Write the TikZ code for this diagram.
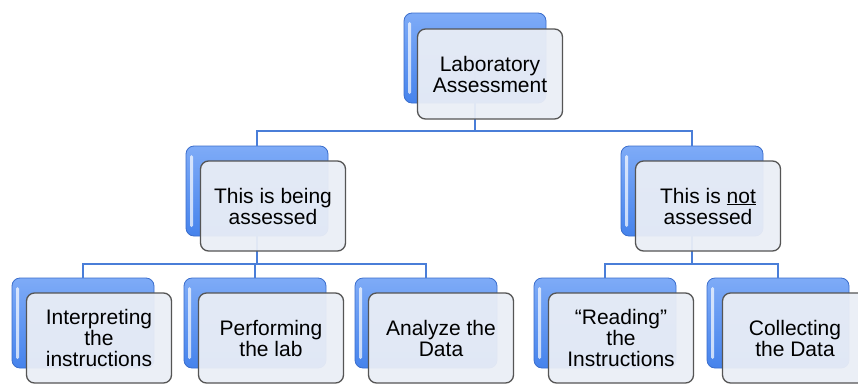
\documentclass[tikz,border=0pt]{standalone}
\usepackage{fontspec}
\setmainfont{Liberation Sans}
\definecolor{conn}{HTML}{4A7ED8}
\definecolor{bluetop}{HTML}{7EABF7}
\definecolor{bluebot}{HTML}{4683EC}
\definecolor{blueedge}{HTML}{3A6DCC}
\definecolor{frontfill}{HTML}{EAEEF6}
\definecolor{frontedge}{HTML}{555555}
\tikzset{
  backbox/.style={rounded corners=8pt, minimum width=142pt, minimum height=90pt,
    draw=blueedge, line width=0.8pt, top color=bluetop, bottom color=bluebot, inner sep=0pt,
    path picture={\fill[white,opacity=0.7,rounded corners=1.5pt]
      ([xshift=4pt,yshift=-9pt]path picture bounding box.north west) rectangle
      ([xshift=7pt,yshift=9pt]path picture bounding box.south west);}},
  frontbox/.style={rounded corners=8pt, minimum width=145pt, minimum height=90pt,
    draw=frontedge, line width=1.3pt, fill=frontfill, fill opacity=0.94, text opacity=1,
    align=center, inner sep=2pt, font=\fontsize{21}{21}\selectfont},
  link/.style={draw=conn, line width=2.5pt}
}
\begin{document}
\begin{tikzpicture}[x=1pt,y=-1pt]
\useasboundingbox (0,0) rectangle (858,383);
\clip (0,0) rectangle (858,383);
\fill[white] (0,0) rectangle (858,383);
% back (blue) boxes
\node[backbox] (topB) at (475,58) {};
\node[backbox] (ltB) at (257,191) {};
\node[backbox] (rtB) at (692,191) {};
\node[backbox] (b1B) at (83,323) {};
\node[backbox] (b2B) at (255,323) {};
\node[backbox] (b3B) at (426,323) {};
\node[backbox] (b4B) at (605,323) {};
\node[backbox] (b5B) at (778,323) {};
% connectors (behind front boxes)
\draw[link] (topB.center) -- (topB.center |- 0,131) coordinate (j0) -| (ltB.north);
\draw[link] (j0) -| (rtB.north);
\draw[link] (ltB.center) -- (ltB.center |- 0,264) coordinate (j1) -| (b1B.north);
\draw[link] (j1) -| (b2B.north);
\draw[link] (j1) -| (b3B.north);
\draw[link] (rtB.center) -- (rtB.center |- 0,264) coordinate (j2) -| (b4B.north);
\draw[link] (j2) -| (b5B.north);
% front boxes
\node[frontbox] (topF) at (490,74) {Laboratory\\Assessment};
\node[frontbox] (ltF) at (273,206) {This is being\\assessed};
\node[frontbox] (rtF) at (708,206) {This is \underline{not}\\assessed};
\node[frontbox] (b1F) at (99,338) {Interpreting\\the\\instructions};
\node[frontbox] (b2F) at (271,338) {Performing\\the lab};
\node[frontbox] (b3F) at (441,338) {Analyze the\\Data};
\node[frontbox] (b4F) at (621,338) {“Reading”\\the\\Instructions};
\node[frontbox] (b5F) at (795,338) {Collecting\\the Data};
\end{tikzpicture}
\end{document}
